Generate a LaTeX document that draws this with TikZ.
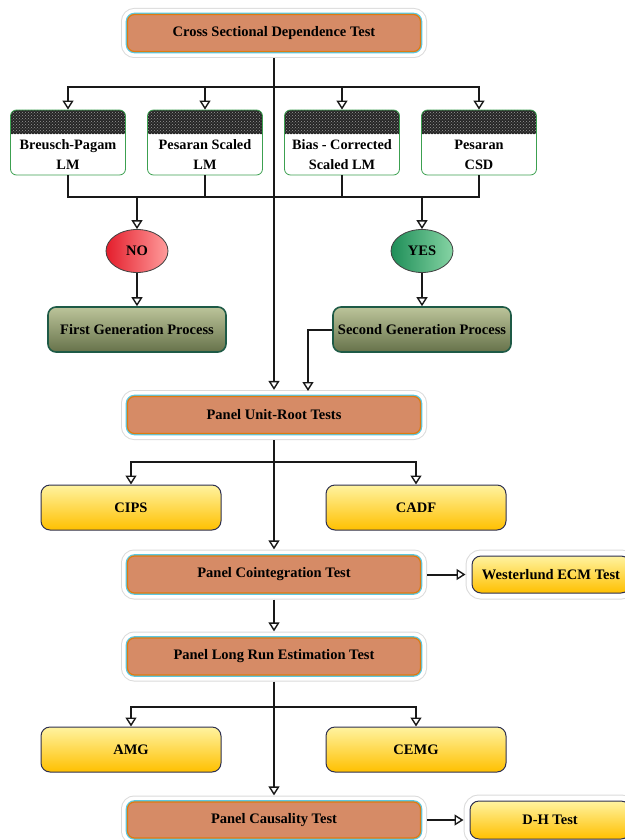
\documentclass[tikz,border=0pt]{standalone}
\usepackage{fontspec}
\setmainfont{Liberation Serif}
\usepackage{xcolor}
\usepackage{tikz}
\usetikzlibrary{shapes.geometric, arrows.meta, positioning, patterns}

\definecolor{testfill}{HTML}{D68B66}
\definecolor{testline}{HTML}{E07A10}
\definecolor{testglow}{HTML}{5CC8E0}
\definecolor{lmgreen}{HTML}{3CA050}
\definecolor{nodark}{HTML}{E41E2C}
\definecolor{nolight}{HTML}{FF9C9C}
\definecolor{yesdark}{HTML}{1E8E58}
\definecolor{yeslight}{HTML}{86D4A4}
\definecolor{gentop}{HTML}{BCC49A}
\definecolor{genbot}{HTML}{66724A}
\definecolor{genline}{HTML}{1E5A46}
\definecolor{goldtop}{HTML}{FFF3A0}
\definecolor{goldmid}{HTML}{FFD838}
\definecolor{goldbot}{HTML}{FFC000}
\definecolor{goldline}{HTML}{2E3050}

\begin{document}
\begin{tikzpicture}[x=1pt, y=-1pt,
    every node/.style={font=\fontsize{14.5}{17}\selectfont\bfseries},
    test/.style={draw=testline, line width=1.2pt, fill=testfill, rounded corners=7pt,
        minimum width=293pt, minimum height=37pt, inner sep=0pt,
        preaction={draw=black!14, line width=13pt},
        preaction={draw=white, line width=11pt},
        preaction={draw=testglow, line width=3.6pt}},
    lmbox/.style={draw=lmgreen, line width=0.8pt, fill=white, rounded corners=6pt,
        minimum width=115pt, minimum height=65pt, inner sep=0pt,
        path picture={
            \fill[black!85, sharp corners] (path picture bounding box.north west)
                rectangle ([yshift=-24pt]path picture bounding box.north east);
            \fill[pattern=crosshatch dots, pattern color=black!40, sharp corners]
                (path picture bounding box.north west)
                rectangle ([yshift=-24pt]path picture bounding box.north east);}},
    lmtext/.style={align=center, font=\fontsize{14.3}{20}\selectfont\bfseries},
    answer/.style={draw=black!75, line width=0.8pt, ellipse, minimum width=62pt,
        minimum height=43pt, inner sep=0pt},
    gen/.style={draw=genline, line width=1.6pt, top color=gentop, bottom color=genbot,
        rounded corners=8pt, minimum width=178pt, minimum height=45pt, inner sep=0pt},
    gold/.style={draw=goldline, line width=1pt, top color=goldtop, middle color=goldmid,
        bottom color=goldbot, rounded corners=9pt, minimum width=180pt,
        minimum height=45pt, inner sep=0pt},
    goldside/.style={gold, minimum width=158pt, minimum height=37pt,
        preaction={draw=black!14, line width=13pt},
        preaction={draw=white, line width=11pt}},
    arr/.style={draw=black!90, line width=2pt,
        -{Triangle[open, length=9pt, width=11pt, line width=1.4pt]}},
    line/.style={draw=black!90, line width=2pt}]

    \useasboundingbox[fill=white] (0,0) rectangle (624,840);

    % Dependence test and the four statistics
    \node[test] (cs) at (274,33) {Cross Sectional Dependence Test};
    \node[lmbox] (bp) at (68,142.5) {};
    \node[lmbox] (ps) at (205,142.5) {};
    \node[lmbox] (bc) at (342,142.5) {};
    \node[lmbox] (csd) at (479,142.5) {};
    \node[lmtext] (bp-t) at (68,155) {Breusch-Pagam\\LM};
    \node[lmtext] (ps-t) at (205,155) {Pesaran Scaled\\LM};
    \node[lmtext] (bc-t) at (342,155) {Bias - Corrected\\Scaled LM};
    \node[lmtext] (csd-t) at (479,155) {Pesaran\\CSD};
    \coordinate (bar1) at (274,87);
    \coordinate (bar2) at (274,197);
    \foreach \n in {bp,ps,bc,csd} {
        \draw[arr] (bar1) -| (\n.north);
        \draw[line] (\n.south) |- (bar2);
    }

    % Answer and generation
    \node[answer, left color=nodark, right color=nolight] (no) at (137,251) {NO};
    \node[answer, left color=yesdark, right color=yeslight] (yes) at (422,251) {YES};
    \node[gen] (fg) at (137,329.5) {First Generation Process};
    \node[gen] (sg) at (422,329.5) {Second Generation Process};
    \draw[arr] (no.north |- bar2) -- (no.north);
    \draw[arr] (yes.north |- bar2) -- (yes.north);
    \draw[arr] (no) -- (fg);
    \draw[arr] (yes) -- (sg);

    % Unit root
    \node[test] (pur) at (274,415) {Panel Unit-Root Tests};
    \coordinate (sgin) at (308,397);
    \draw[arr, shorten <=6pt, shorten >=6pt] (cs.south) -- (pur.north);
    \draw[arr, shorten >=6pt] (sg.west) -| (sgin);
    \node[gold] (cips) at (131,507.5) {CIPS};
    \node[gold] (cadf) at (416,507.5) {CADF};
    \coordinate (bar3) at (274,462);
    \draw[arr] (bar3) -| (cips.north);
    \draw[arr] (bar3) -| (cadf.north);

    % Cointegration
    \node[test] (coint) at (274,574.5) {Panel Cointegration Test};
    \node[goldside] (west) at (551,574.5) {Westerlund ECM Test};
    \draw[arr, shorten <=6pt, shorten >=6pt] (pur.south) -- (coint.north);
    \draw[arr, shorten <=6pt, shorten >=6pt] (coint.east) -- (west.west);

    % Long run
    \node[test] (lr) at (274,656.5) {Panel Long Run Estimation Test};
    \draw[arr, shorten <=6pt, shorten >=6pt] (coint.south) -- (lr.north);
    \node[gold] (amg) at (131,749.5) {AMG};
    \node[gold] (cemg) at (416,749.5) {CEMG};
    \coordinate (bar4) at (274,707);
    \draw[arr] (bar4) -| (amg.north);
    \draw[arr] (bar4) -| (cemg.north);

    % Causality
    \node[test, minimum height=36pt] (caus) at (274,820) {Panel Causality Test};
    \node[goldside, minimum width=160pt, minimum height=38pt] (dh) at (550,820) {D-H Test};
    \draw[arr, shorten <=6pt, shorten >=6pt] (lr.south) -- (caus.north);
    \draw[arr, shorten <=6pt, shorten >=6pt] (caus.east) -- (dh.west);
\end{tikzpicture}
\end{document}
